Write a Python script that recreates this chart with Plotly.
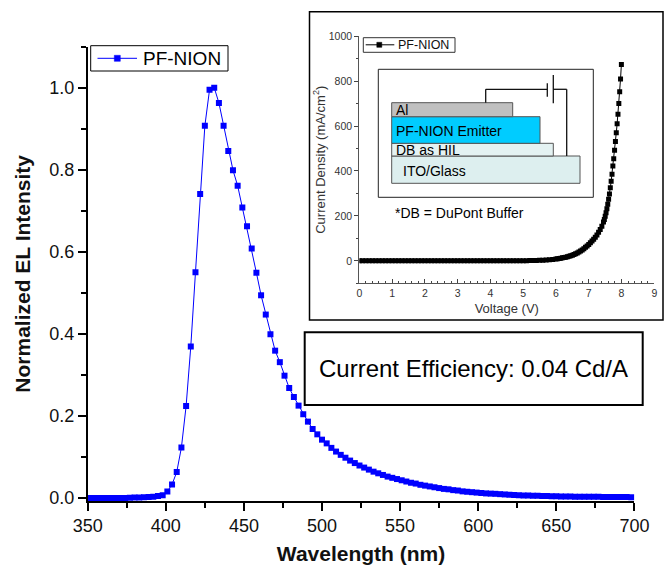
import plotly.graph_objects as go

# ---------------- data ----------------
wavelength_nm = [
    350, 353, 356, 359, 362, 365, 368, 371, 374, 377,
    380, 383, 386, 389, 392, 395, 398, 401, 404, 407,
    410, 413, 416, 419, 422, 425, 428, 431, 434, 437,
    440, 443, 446, 449, 452, 455, 458, 461, 464, 467,
    470, 473, 476, 479, 482, 485, 488, 491, 494, 497,
    500, 503, 506, 509, 512, 515, 518, 521, 524, 527,
    530, 533, 536, 539, 542, 545, 548, 551, 554, 557,
    560, 563, 566, 569, 572, 575, 578, 581, 584, 587,
    590, 593, 596, 599, 602, 605, 608, 611, 614, 617,
    620, 623, 626, 629, 632, 635, 638, 641, 644, 647,
    650, 653, 656, 659, 662, 665, 668, 671, 674, 677,
    680, 683, 686, 689, 692, 695, 698,
]
el_intensity = [
    0.000, 0.000, 0.000, 0.000, 0.000, 0.000, 0.000, 0.000, 0.000, 0.0005,
    0.0008, 0.001, 0.0015, 0.002, 0.003, 0.0045, 0.0066, 0.0155, 0.033, 0.063,
    0.123, 0.224, 0.369, 0.550, 0.741, 0.907, 0.995, 1.000, 0.963, 0.907,
    0.846, 0.799, 0.761, 0.708, 0.662, 0.608, 0.549, 0.494, 0.447, 0.399,
    0.359, 0.331, 0.298, 0.268, 0.246, 0.225, 0.204, 0.186, 0.168, 0.155,
    0.142, 0.133, 0.122, 0.113, 0.105, 0.098, 0.091, 0.085, 0.079, 0.074,
    0.069, 0.064, 0.060, 0.056, 0.052, 0.049, 0.046, 0.043, 0.040, 0.037,
    0.035, 0.032, 0.030, 0.028, 0.026, 0.024, 0.022, 0.021, 0.019, 0.018,
    0.016, 0.015, 0.014, 0.013, 0.012, 0.011, 0.0105, 0.010, 0.0092, 0.0085,
    0.0078, 0.0072, 0.0067, 0.0062, 0.0058, 0.0054, 0.0050, 0.0047, 0.0044, 0.0041,
    0.0039, 0.0037, 0.0035, 0.0033, 0.0031, 0.0030, 0.0029, 0.0028, 0.0027, 0.0026,
    0.0025, 0.0024, 0.0023, 0.0022, 0.0021, 0.0020, 0.0019,
]

voltage_v = [
    0.0, 0.1, 0.2, 0.3, 0.4, 0.5, 0.6, 0.7, 0.8, 0.9,
    1.0, 1.1, 1.2, 1.3, 1.4, 1.5, 1.6, 1.7, 1.8, 1.9,
    2.0, 2.1, 2.2, 2.3, 2.4, 2.5, 2.6, 2.7, 2.8, 2.9,
    3.0, 3.1, 3.2, 3.3, 3.4, 3.5, 3.6, 3.7, 3.8, 3.9,
    4.0, 4.1, 4.2, 4.3, 4.4, 4.5, 4.6, 4.7, 4.8, 4.9,
    5.0, 5.1, 5.2, 5.3, 5.4, 5.5, 5.6, 5.7, 5.8, 5.9,
    6.0, 6.05, 6.10, 6.15, 6.20, 6.25, 6.30, 6.35, 6.40, 6.45,
    6.50, 6.55, 6.60, 6.65, 6.70, 6.75, 6.80, 6.85, 6.90, 6.95,
    7.00, 7.05, 7.10, 7.15, 7.20, 7.25, 7.30, 7.35, 7.40, 7.45,
    7.476, 7.502, 7.528, 7.554, 7.580, 7.606, 7.632, 7.658, 7.684, 7.710,
    7.736, 7.762, 7.788, 7.814, 7.840, 7.866, 7.892, 7.918, 7.944, 7.970,
    7.996,
]
current_density = [
    0, 0, 0, 0, 0, 0, 0, 0, 0, 0,
    0, 0, 0, 0, 0, 0, 0, 0, 0, 0,
    0, 0, 0, 0, 0, 0, 0, 0, 0, 0,
    0, 0, 0, 0, 0, 0, 0, 0, 0, 0,
    0, 0, 0, 0, 0, 0, 0.2, 0.3, 0.4, 0.5,
    0.7, 0.9, 1.1, 1.4, 1.8, 2.3, 3.0, 3.9, 5.0, 6.5,
    8.3, 9.3, 10.5, 11.8, 13.2, 14.8, 16.5, 18.4, 20.5, 22.8,
    25.3, 28.2, 31.4, 35, 39, 43.5, 48.5, 54, 60, 66.5,
    73, 80, 88, 96, 105, 115, 127, 140, 154, 173,
    184, 198, 214, 232, 252, 274, 298, 325, 354, 386,
    422, 455, 492, 531, 570, 610, 653, 700, 753, 810,
    874,
]

series_name = "PF-NION"
main_xticks = [350, 400, 450, 500, 550, 600, 650, 700]
main_yticks = [0.0, 0.2, 0.4, 0.6, 0.8, 1.0]
inset_xticks = [0, 1, 2, 3, 4, 5, 6, 7, 8, 9]
inset_yticks = [0, 200, 400, 600, 800, 1000]
layer_labels = ["Al", "PF-NION Emitter", "DB as HIL", "ITO/Glass"]
footnote = "*DB = DuPont Buffer"
efficiency_text = "Current Efficiency: 0.04 Cd/A"

# ---------------- layout helpers ----------------
W, H = 664, 565
FONT = "Arial, Liberation Sans, sans-serif"
BLUE = "#0000FF"


def px(x):
    return x / W


def py(y):
    return 1 - y / H


fig = go.Figure()

fig.add_trace(go.Scatter(
    x=wavelength_nm, y=el_intensity, mode="lines+markers", name=series_name,
    line=dict(color=BLUE, width=1),
    marker=dict(symbol="square", size=6, color=BLUE),
    xaxis="x", yaxis="y", showlegend=False,
))
fig.add_trace(go.Scatter(
    x=voltage_v, y=current_density, mode="lines+markers", name=series_name,
    line=dict(color="black", width=1),
    marker=dict(symbol="square", size=5, color="black"),
    xaxis="x2", yaxis="y2", showlegend=False,
))

shapes = []
annotations = []


def rect(x0, y0, x1, y1, line_color, line_width, fill, layer="above"):
    shapes.append(dict(type="rect", xref="paper", yref="paper",
                       x0=px(x0), x1=px(x1), y0=py(y1), y1=py(y0),
                       line=dict(color=line_color, width=line_width),
                       fillcolor=fill, layer=layer))


def seg(x0, y0, x1, y1, color, width):
    shapes.append(dict(type="line", xref="paper", yref="paper",
                       x0=px(x0), y0=py(y0), x1=px(x1), y1=py(y1),
                       line=dict(color=color, width=width), layer="above"))


def label(x, y, txt, size, anchor="left", color="black"):
    annotations.append(dict(text=txt, xref="paper", yref="paper", x=px(x), y=py(y),
                            xanchor=anchor, yanchor="middle", showarrow=False,
                            font=dict(family=FONT, size=size, color=color)))


# inset frame (drawn below traces)
rect(309.5, 11.7, 663, 320, "black", 1.5, "white", layer="below")

# main legend (line + square sample + text)
rect(90.7, 45.7, 228, 71, "black", 1, "white")
seg(97.5, 58.3, 137, 58.3, BLUE, 1)
rect(114.3, 55.3, 120.3, 61.3, BLUE, 0.5, BLUE)
label(141.2, 58.6, series_name, 19)

# inset legend
rect(363.3, 37.7, 455, 52.3, "#333", 1, "white")
seg(365.7, 44.8, 394.3, 44.8, "black", 1)
rect(376.8, 42.3, 381.8, 47.3, "black", 0.5, "black")
label(396.2, 45.0, series_name, 12.5, color="#111")

# device diagram
rect(378.3, 69.3, 593.3, 197.3, "#222", 1, "white")
layers = [
    (391.7, 156.0, 580.0, 183.3, "#DDEFEF"),
    (391.7, 143.3, 553.3, 156.0, "#E4F2F2"),
    (391.7, 116.7, 540.0, 143.3, "#00CCFF"),
    (391.7, 102.7, 512.7, 116.7, "#C0C0C0"),
]
for x0, y0, x1, y1, fill in layers:
    rect(x0, y0, x1, y1, "#555", 1, fill)
for x0, y0, x1, y1 in [
    (485.7, 102.7, 485.7, 89.3),
    (485.7, 89.3, 547.3, 89.3),
    (547.3, 83.3, 547.3, 96.7),
    (553.3, 75.0, 553.3, 103.3),
    (553.3, 89.3, 566.7, 89.3),
    (566.7, 89.3, 566.7, 156.0),
]:
    seg(x0, y0, x1, y1, "#111", 1.3)
for (lx, ly), txt in zip([(394, 110.0), (394, 130.7), (394, 150.0), (401, 170.5)], layer_labels):
    label(lx, ly, txt, 14)
label(392.5, 213.3, footnote, 14)

# efficiency box
rect(304.7, 332.3, 642.7, 405, "black", 2, "white")
label(473.7, 368.5, efficiency_text, 24, anchor="center")

fig.update_layout(
    template="none",
    width=W, height=H,
    margin=dict(l=0, r=0, t=0, b=0),
    paper_bgcolor="white",
    plot_bgcolor="rgba(0,0,0,0)",
    font=dict(family=FONT, color="black"),
    showlegend=False,
    shapes=shapes,
    annotations=annotations,
    xaxis=dict(
        domain=[px(87.7), px(634.4)], range=[350, 700], anchor="y",
        tickmode="array", tickvals=main_xticks,
        ticks="outside", ticklen=8, tickwidth=1.5, tickcolor="black",
        minor=dict(dtick=25, tick0=350, ticks="outside", ticklen=5, tickwidth=1.5, tickcolor="black", showgrid=False),
        showline=True, linecolor="black", linewidth=1.6, mirror=False,
        showgrid=False, zeroline=False, automargin=False,
        tickfont=dict(family=FONT, size=18, color="#111"),
        title=dict(text="<b>Wavelength (nm)</b>", font=dict(family=FONT, size=21, color="#111"), standoff=12),
    ),
    yaxis=dict(
        domain=[py(501), py(46.7)], range=[-0.0075, 1.1], anchor="x",
        tickmode="array", tickvals=main_yticks, tickformat=".1f",
        ticks="outside", ticklen=8, tickwidth=1.5, tickcolor="black",
        minor=dict(dtick=0.1, tick0=0, ticks="outside", ticklen=5, tickwidth=1.5, tickcolor="black", showgrid=False),
        showline=True, linecolor="black", linewidth=1.6, mirror=False,
        showgrid=False, zeroline=False, automargin=False,
        tickfont=dict(family=FONT, size=18, color="#111"),
        title=dict(text="<b>Normalized EL Intensity</b>", font=dict(family=FONT, size=21, color="#111"), standoff=13),
    ),
    xaxis2=dict(
        domain=[px(359.3), px(654.3)], range=[0, 9], anchor="y2",
        tickmode="array", tickvals=inset_xticks,
        ticks="inside", ticklen=4, tickwidth=1, tickcolor="#444",
        minor=dict(dtick=0.2, tick0=0, ticks="inside", ticklen=2.5, tickwidth=1, tickcolor="#444", showgrid=False),
        showline=True, linecolor="#555", linewidth=1.2,
        showgrid=False, zeroline=False, automargin=False,
        tickfont=dict(family=FONT, size=10.5, color="#333"),
        title=dict(text="Voltage (V)", font=dict(family=FONT, size=13, color="#333"), standoff=5),
    ),
    yaxis2=dict(
        domain=[py(283.3), py(36.2)], range=[-100, 1000], anchor="x2",
        tickmode="array", tickvals=inset_yticks,
        ticks="outside", ticklen=4, tickwidth=1, tickcolor="#444",
        minor=dict(dtick=100, tick0=0, ticks="outside", ticklen=2.5, tickwidth=1, tickcolor="#444", showgrid=False),
        showline=True, linecolor="#555", linewidth=1.2,
        showgrid=False, zeroline=False, automargin=False,
        tickfont=dict(family=FONT, size=10.5, color="#333"),
        title=dict(text="Current Density (mA/cm<sup>2</sup>)", font=dict(family=FONT, size=13, color="#333"), standoff=0),
    ),
)

fig.write_html("out.html")
